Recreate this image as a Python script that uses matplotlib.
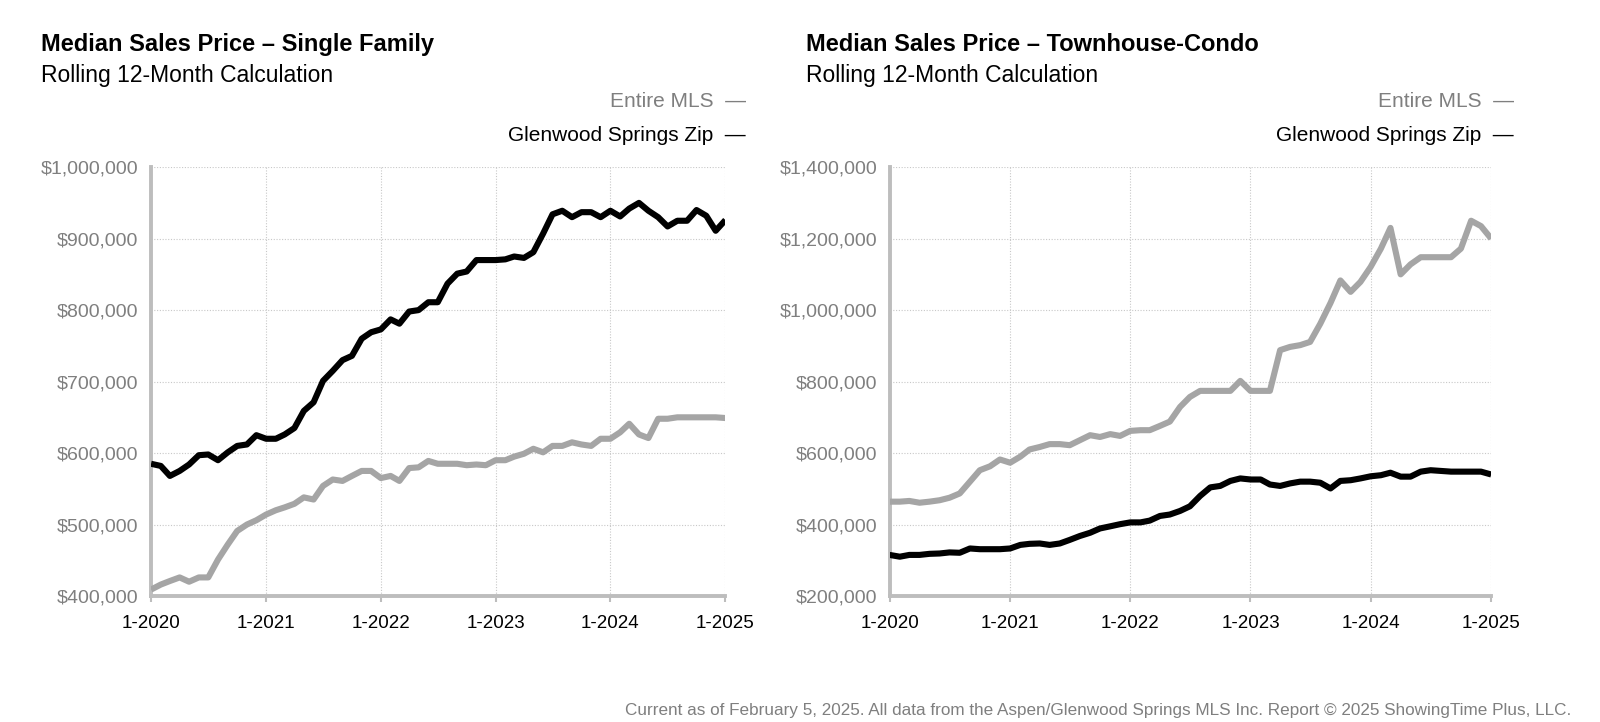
import matplotlib

matplotlib.use("Agg")
import matplotlib.pyplot as plt
import numpy as np
import pandas as pd

months = pd.date_range("2020-01-01", "2025-01-01", freq="MS")
year_ticks = [pd.Timestamp(f"{y}-01-01") for y in range(2020, 2026)]
year_labels = [f"1-{y}" for y in range(2020, 2026)]

# Single family, rolling 12-month median
sf_zip = [585, 582, 568, 575, 584, 597, 598, 590, 601, 610, 612, 625,
          620, 620, 626, 635, 659, 671, 701, 715, 730, 736, 760, 769,
          773, 787, 781, 798, 800, 811, 811, 837, 851, 854, 870, 870,
          870, 871, 875, 873, 881, 907, 934, 939, 930, 937, 937, 930,
          939, 931, 942, 950, 939, 930, 917, 925, 925, 940, 932, 911,
          926]
sf_mls = [409, 416, 421, 426, 420, 426, 426, 451, 472, 491, 500, 506,
          514, 520, 524, 529, 538, 535, 554, 563, 561, 568, 575, 575,
          565, 568, 561, 579, 580, 589, 585, 585, 585, 583, 584, 583,
          590, 590, 595, 599, 606, 601, 610, 610, 615, 612, 610, 620,
          620, 629, 641, 626, 621, 648, 648, 650, 650, 650, 650, 650,
          649]

# Townhouse-condo
tc_zip = [315, 310, 315, 315, 318, 319, 322, 321, 333, 331, 331, 331,
          333, 343, 346, 347, 343, 347, 357, 368, 377, 389, 395, 401,
          406, 406, 411, 424, 428, 438, 451, 480, 504, 508, 522, 529,
          526, 526, 512, 508, 515, 520, 520, 517, 501, 522, 524, 529,
          535, 538, 545, 534, 534, 548, 552, 550, 548, 548, 548, 548,
          540]
tc_mls = [464, 464, 466, 461, 464, 468, 475, 487, 520, 552, 563, 582,
          573, 590, 610, 617, 625, 625, 622, 636, 650, 645, 653, 648,
          662, 664, 664, 676, 688, 729, 757, 774, 774, 774, 774, 802,
          774, 774, 774, 888, 897, 902, 911, 962, 1020, 1083, 1051, 1079,
          1121, 1172, 1230, 1100, 1128, 1148, 1148, 1148, 1148, 1172, 1250, 1235,
          1200]

panels = [
    ("Median Sales Price \u2013 Single Family", sf_mls, sf_zip, (400, 1000), 100),
    ("Median Sales Price \u2013 Townhouse-Condo", tc_mls, tc_zip, (200, 1400), 200),
]

GRAY = "#a5a5a5"
TICK_GRAY = "#7f7f7f"
AX_GRAY = "#bdbdbd"
TITLE_FONT = ["Liberation Sans Narrow", "Liberation Sans", "DejaVu Sans"]
BODY_FONT = ["Liberation Sans", "DejaVu Sans"]

fig = plt.figure(figsize=(16, 7.22), dpi=100)
ax_rects = [(0.0944, 0.1745, 0.359, 0.594), (0.556, 0.1745, 0.376, 0.594)]
title_x = [0.0256, 0.504]
legend_x = [0.466, 0.946]

for (title, mls, zipv, ylim, step), rect, tx, lx in zip(panels, ax_rects, title_x, legend_x):
    ax = fig.add_axes(rect)
    ax.plot(months, np.array(mls) * 1000, color=GRAY, lw=4.4, solid_capstyle="butt", zorder=3)
    ax.plot(months, np.array(zipv) * 1000, color="black", lw=4.4, solid_capstyle="butt", zorder=4)
    ax.set_xlim(months[0], months[-1])
    ax.set_ylim(ylim[0] * 1000, ylim[1] * 1000)
    yt = np.arange(ylim[0], ylim[1] + 1, step) * 1000
    ax.set_yticks(yt)
    ax.set_yticklabels([f"${v:,.0f}" for v in yt], color=TICK_GRAY, fontsize=14, family=BODY_FONT)
    ax.set_xticks(year_ticks)
    ax.set_xticklabels(year_labels, color="black", fontsize=13.5, family=BODY_FONT)
    ax.grid(True, color="#c8c8c8", ls=(0, (1, 1.5)), lw=0.8, zorder=0)
    for s in ("top", "right"):
        ax.spines[s].set_visible(False)
    for s in ("left", "bottom"):
        ax.spines[s].set_color(AX_GRAY)
        ax.spines[s].set_linewidth(2.8)
    ax.tick_params(axis="y", length=0, pad=9)
    ax.tick_params(axis="x", length=4, width=1.5, color=AX_GRAY, pad=10)

    fig.text(tx, 0.939, title, fontsize=17, fontweight="bold", family=TITLE_FONT, va="center")
    fig.text(tx, 0.895, "Rolling 12-Month Calculation", fontsize=16.5, family=TITLE_FONT, va="center")
    fig.text(lx, 0.859, "Entire MLS  \u2014", fontsize=15, color=TICK_GRAY,
             family=BODY_FONT, ha="right", va="center")
    fig.text(lx, 0.813, "Glenwood Springs Zip  \u2014", fontsize=15, color="black",
             family=BODY_FONT, ha="right", va="center")

fig.text(0.982, 0.016, "Current as of February 5, 2025. All data from the Aspen/Glenwood Springs MLS Inc. "
         "Report \u00a9 2025 ShowingTime Plus, LLC.", fontsize=12.3, color=TICK_GRAY,
         family=TITLE_FONT, ha="right", va="center")

fig.savefig("out.png", dpi=100)
